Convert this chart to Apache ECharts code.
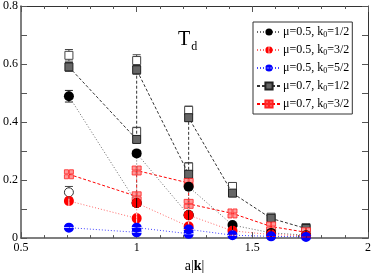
<!DOCTYPE html>
<html><head><meta charset="utf-8">
<script src="https://cdn.jsdelivr.net/npm/echarts@6/dist/echarts.min.js"></script>
<style>html,body{margin:0;padding:0;background:#fff}#c{width:374px;height:278px}</style>
</head><body><div id="c"></div>
<script>
// |k| values (a|k|)
const kvals = [0.7071, 1.0, 1.2247, 1.4142, 1.5811, 1.7321];
// order of points in each series (index into kvals)
const order = [0, 1, 1, 2, 2, 3, 4, 5];
// series values
const mu05k12 = [0.489, 0.121, 0.292, 0.079, 0.177, 0.045, 0.018, 0.010];
const mu05k32 = [0.128, 0.068, 0.121, 0.040, 0.079, 0.025, 0.012, 0.008];
const mu05k52 = [0.036, 0.020, 0.036, 0.015, 0.030, 0.010, 0.006, 0.004];
const mu07k12 = [0.590, 0.340, 0.580, 0.220, 0.415, 0.155, 0.068, 0.033];
const mu07k32 = [0.220, 0.144, 0.233, 0.190, 0.118, 0.085, 0.040, 0.020];
// open-symbol points (no legend entry)
const openSq = [0.630, 0.367, 0.612, 0.245, 0.440, 0.178, 0.072, 0.036];
const openCirc = [0.158, 0.121, 0.081];
const openCircIdx = [0, 1, 2];
// error sizes
const errBlack = [0.020, 0.010, 0.010, 0.008, 0.008, 0.005, 0.004, 0.003];
const errGray = [0.015, 0.010, 0.015, 0.012, 0.012, 0.010, 0.006, 0.004];
const errOpenSq = [0.020, 0.015, 0.020, 0.015, 0.015, 0.012, 0.006, 0.004];
const errOpenCirc = [0.020, 0.012, 0.010];
const xTicks = ['0.5', '1', '1.5', '2'];
const yTicks = ['0', '0.2', '0.4', '0.6', '0.8'];

const names = ['μ=0.5, k0=1/2', 'μ=0.5, k0=3/2', 'μ=0.5, k0=5/2', 'μ=0.7, k0=1/2', 'μ=0.7, k0=3/2'];
const pts = ys => order.map((i, j) => [kvals[i], ys[j]]);

const redSym = 'path://M-1,-10A10,10 0 0 0 -1,10Z M1,-10A10,10 0 0 1 1,10Z';
const blueSym = 'path://M-10,-1A10,10 0 0 1 10,-1Z M-10,1A10,10 0 0 0 10,1Z';
const pinkSym = 'path://M0,0H9V9H0Z M11,0H20V9H11Z M0,11H9V20H0Z M11,11H20V20H11Z';

function errSeries(ys, errs, color, idx) {
  const data = ys.map((y, j) => [kvals[idx ? idx[j] : order[j]], y, errs[j]]);
  return {
    type: 'custom', silent: true, z: 1,
    renderItem: (params, api) => {
      const x = api.value(0), y = api.value(1), e = api.value(2);
      const p1 = api.coord([x, y + e]), p2 = api.coord([x, y - e]);
      const w = 4;
      const st = { stroke: color, lineWidth: 1 };
      return { type: 'group', children: [
        { type: 'line', shape: { x1: p1[0], y1: p1[1], x2: p2[0], y2: p2[1] }, style: st },
        { type: 'line', shape: { x1: p1[0] - w, y1: p1[1], x2: p1[0] + w, y2: p1[1] }, style: st },
        { type: 'line', shape: { x1: p2[0] - w, y1: p2[1], x2: p2[0] + w, y2: p2[1] }, style: st }
      ]};
    },
    data: data
  };
}

const chart = echarts.init(document.getElementById('c'));
const serif = 'Liberation Serif';
const axCol = '#555';
const option = {
  animation: false,
  textStyle: { fontFamily: serif },
  title: {
    text: '{t|T}{d|d}', left: 173, top: 22,
    textStyle: { fontWeight: 'normal', rich: {
      t: { fontSize: 20, fontFamily: serif, fontWeight: 'normal', color: '#000' },
      d: { fontSize: 12, fontFamily: serif, fontWeight: 'normal', color: '#000', verticalAlign: 'bottom', padding: [14, 0, 0, 1] } } }
  },
  legend: {
    orient: 'vertical', left: 253, top: 22, width: 100,
    borderColor: '#333', borderWidth: 1, backgroundColor: '#fff',
    padding: [4, 3, 3, 3], itemGap: 5, itemWidth: 24, itemHeight: 9,
    data: names,
    formatter: n => n.replace('k0', 'k{s|0}'),
    textStyle: { fontFamily: serif, fontSize: 12, color: '#000', padding: [0, 0, 0, -3],
      rich: { s: { fontSize: 8, fontFamily: serif, verticalAlign: 'bottom', padding: [6, 0, 0, 0] } } }
  },
  grid: { left: 19, right: 4, top: 5, bottom: 29 },
  xAxis: [{
    type: 'value', min: 0.5, max: 2, interval: 0.5,
    name: 'a|{b|k}|', nameLocation: 'middle', nameGap: 19,
    nameTextStyle: { fontFamily: serif, fontSize: 14, color: '#000', rich: { b: { fontWeight: 'bold', fontFamily: serif, fontSize: 14, color: '#000' } } },
    axisLine: { lineStyle: { color: axCol, width: 1.5 } },
    axisTick: { inside: true, length: 6, lineStyle: { color: axCol } },
    minorTick: { show: true, splitNumber: 5, length: 3, lineStyle: { color: axCol } },
    axisLabel: { fontFamily: serif, fontSize: 12, color: '#000', margin: 4, formatter: v => xTicks[Math.round((v - 0.5) / 0.5)] },
    splitLine: { show: false }
  }, {
    type: 'value', min: 0.5, max: 2, interval: 0.5, position: 'top',
    axisLine: { show: true, onZero: false, lineStyle: { color: '#333', width: 1 } },
    axisTick: { inside: true, length: 6, lineStyle: { color: axCol } },
    minorTick: { show: true, splitNumber: 5, length: 3, lineStyle: { color: axCol } },
    axisLabel: { show: false }, splitLine: { show: false }
  }],
  yAxis: [{
    type: 'value', min: 0, max: 0.8, interval: 0.2,
    axisLine: { show: true, lineStyle: { color: axCol, width: 1.5 } },
    axisTick: { show: true, inside: true, length: 6, lineStyle: { color: axCol } },
    minorTick: { show: true, splitNumber: 2, length: 6, lineStyle: { color: axCol } },
    axisLabel: { fontFamily: serif, fontSize: 12, color: '#000', margin: 3, formatter: v => yTicks[Math.round(v / 0.2)] },
    splitLine: { show: false }
  }, {
    type: 'value', min: 0, max: 0.8, interval: 0.2, position: 'right',
    axisLine: { show: true, onZero: false, lineStyle: { color: '#333', width: 1 } },
    axisTick: { show: true, inside: true, length: 6, lineStyle: { color: axCol } },
    minorTick: { show: true, splitNumber: 2, length: 6, lineStyle: { color: axCol } },
    axisLabel: { show: false }, splitLine: { show: false }
  }],
  series: [
    errSeries(openSq, errOpenSq, '#444'),
    errSeries(openCirc, errOpenCirc, '#444', openCircIdx),
    errSeries(mu05k12, errBlack, '#222'),
    errSeries(mu07k12, errGray, '#333'),
    { name: 'open-sq', type: 'line', data: pts(openSq), symbol: 'rect', symbolSize: 8,
      lineStyle: { width: 0, opacity: 0 }, itemStyle: { color: '#fff', borderColor: '#444', borderWidth: 1 }, z: 2 },
    { name: 'open-c', type: 'line', data: openCirc.map((y, j) => [kvals[openCircIdx[j]], y]), symbol: 'circle', symbolSize: 9,
      lineStyle: { width: 0, opacity: 0 }, itemStyle: { color: '#fff', borderColor: '#333', borderWidth: 1 }, z: 2 },
    { name: names[3], type: 'line', data: pts(mu07k12), symbol: 'rect', symbolSize: 8,
      lineStyle: { color: '#333', width: 1, type: [3, 2] }, itemStyle: { color: '#666', borderColor: '#222', borderWidth: 1 }, z: 3 },
    { name: names[4], type: 'line', data: pts(mu07k32), symbol: pinkSym, symbolSize: 9,
      lineStyle: { color: '#f00', width: 1, type: [3, 2] }, itemStyle: { color: '#f99', borderColor: '#f22', borderWidth: 0.8 }, z: 3 },
    { name: names[0], type: 'line', data: pts(mu05k12), symbol: 'circle', symbolSize: 10,
      lineStyle: { color: '#666', width: 1, type: [1, 2] }, itemStyle: { color: '#000' }, z: 4 },
    { name: names[1], type: 'line', data: pts(mu05k32), symbol: redSym, symbolSize: 10,
      lineStyle: { color: '#f66', width: 1, type: [1, 2] }, itemStyle: { color: '#f00' }, z: 4 },
    { name: names[2], type: 'line', data: pts(mu05k52), symbol: blueSym, symbolSize: 10,
      lineStyle: { color: '#44f', width: 1, type: [1, 2] }, itemStyle: { color: '#00f' }, z: 5 }
  ]
};
chart.setOption(option);
</script></body></html>
